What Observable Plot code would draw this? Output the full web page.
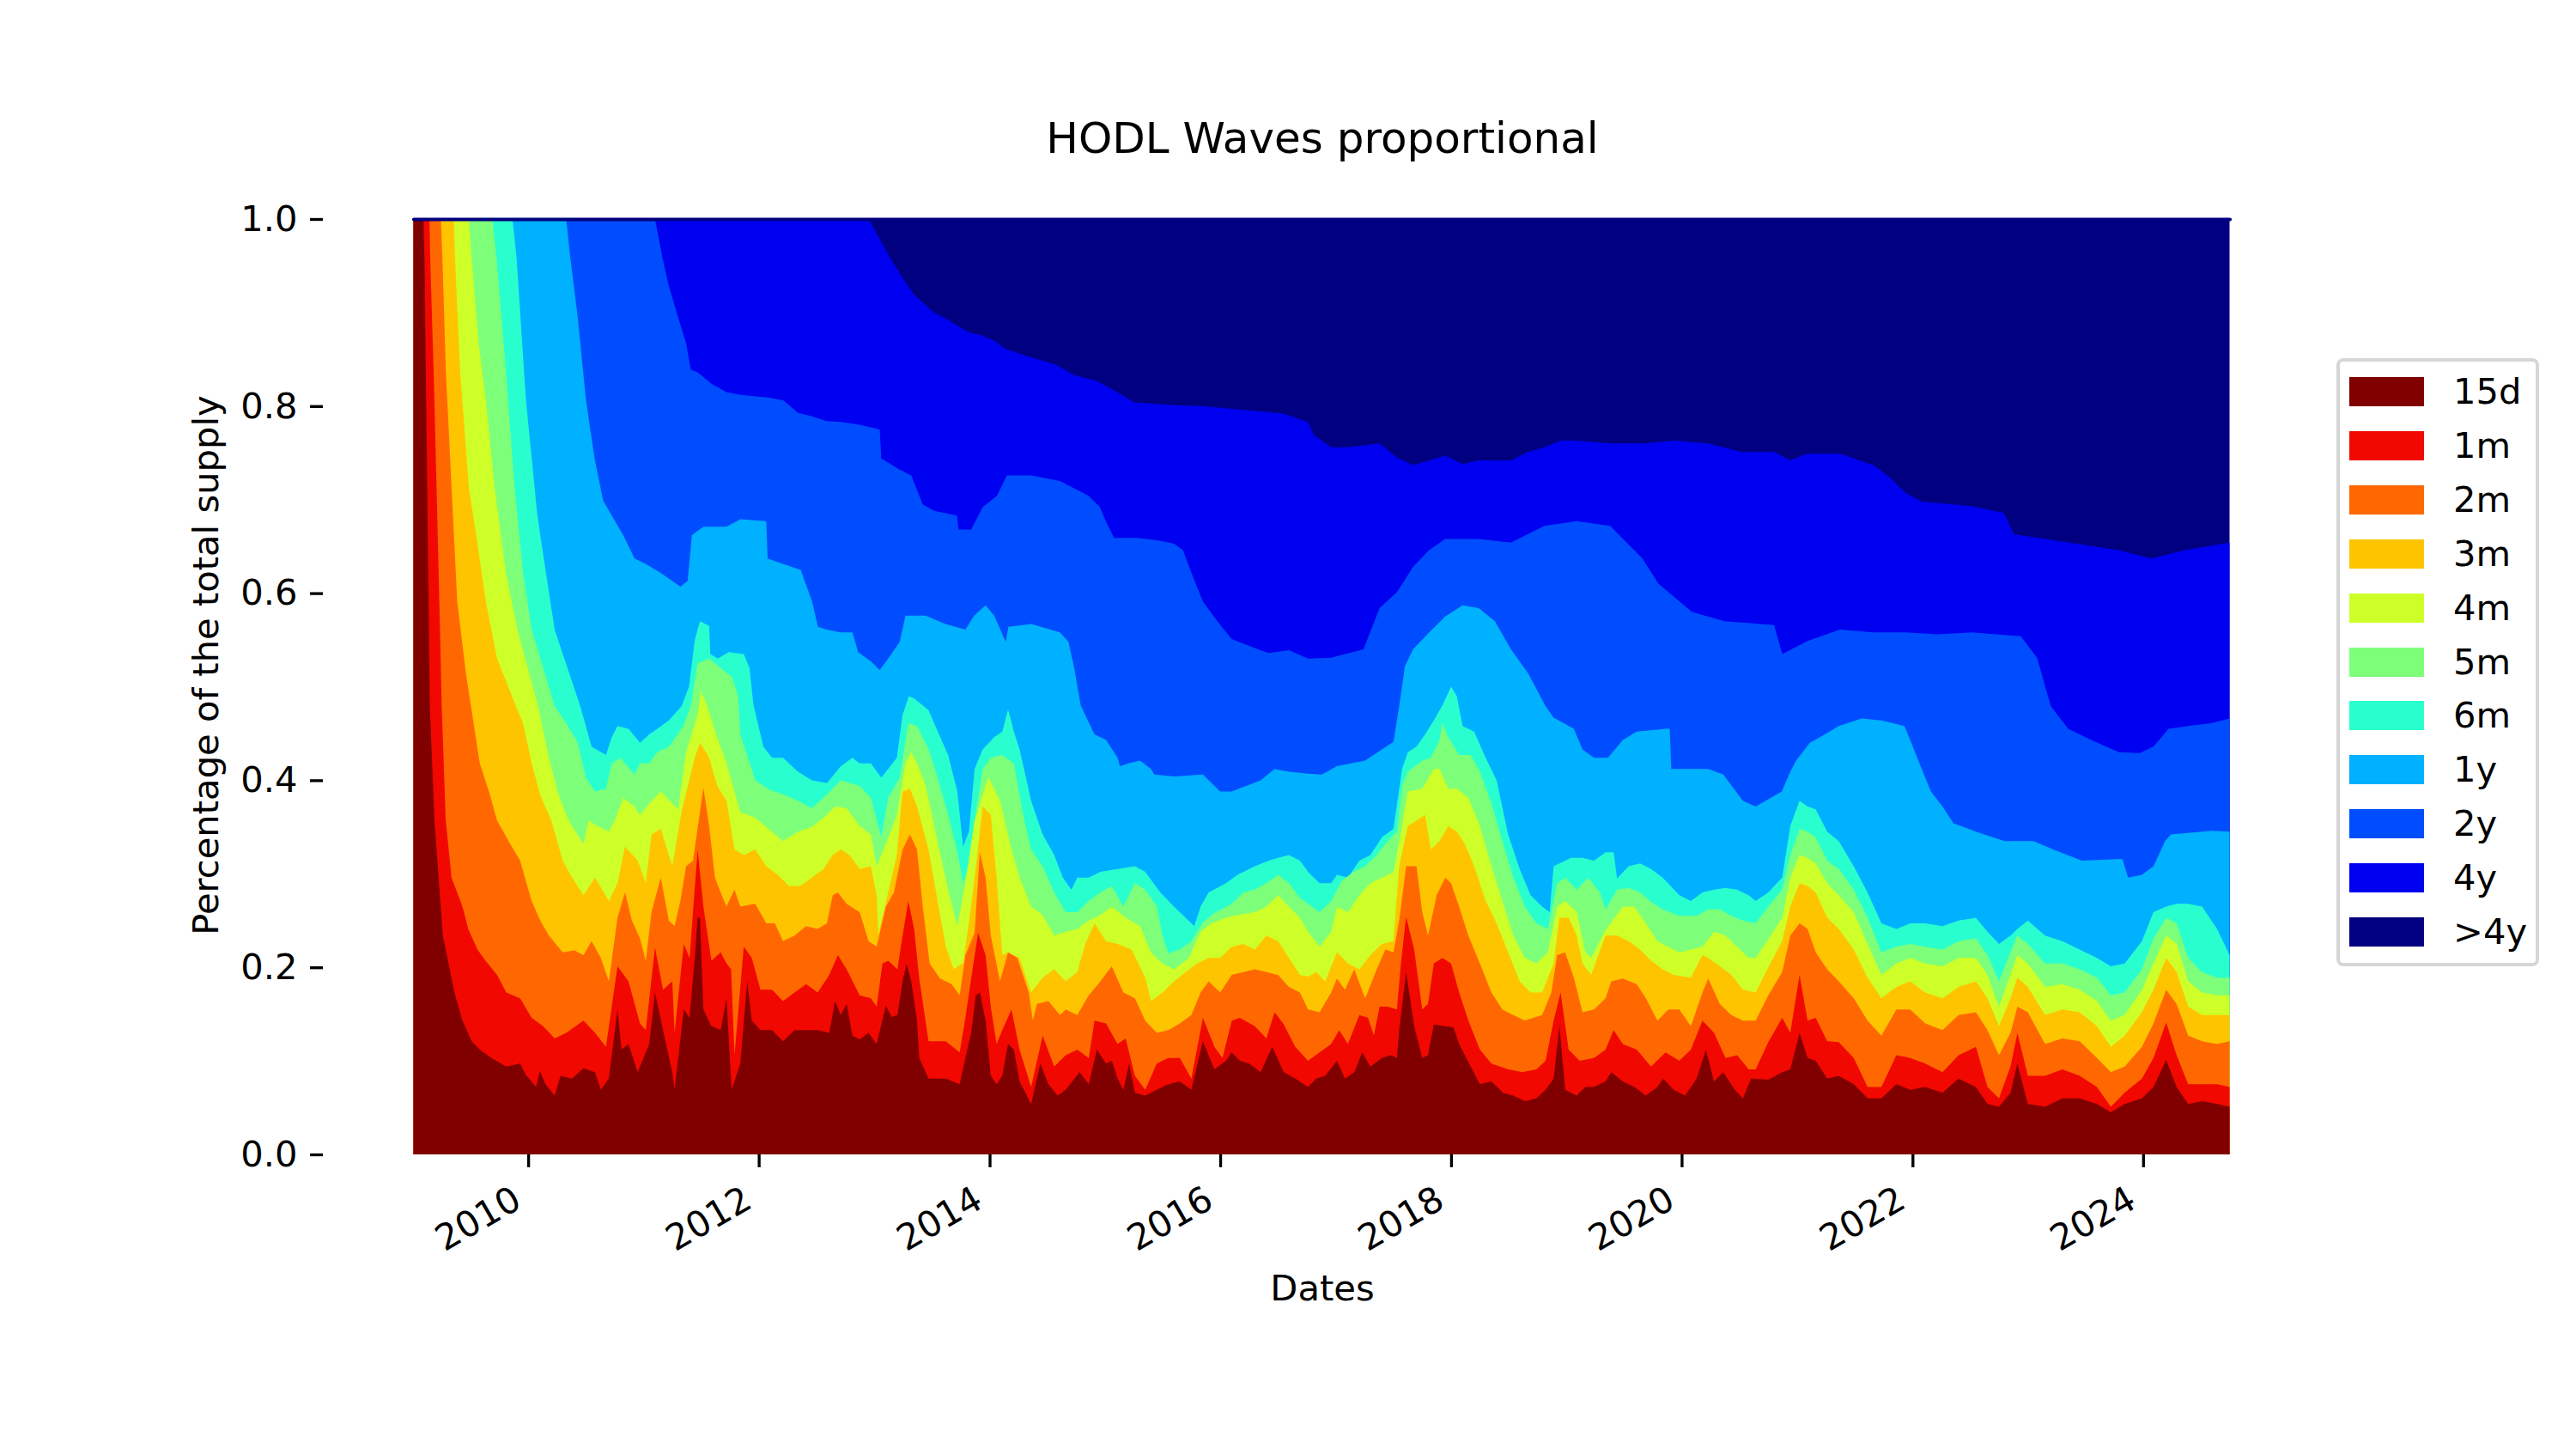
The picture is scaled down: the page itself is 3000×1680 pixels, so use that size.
<!DOCTYPE html>
<html>
<head>
<meta charset="utf-8">
<script src="https://cdn.jsdelivr.net/npm/d3@7"></script>
<script src="https://cdn.jsdelivr.net/npm/@observablehq/plot@0.6"></script>
<style>
  html, body { margin: 0; padding: 0; background: #ffffff; }
  #chart { position: relative; width: 3000px; height: 1680px; overflow: hidden; font-family: "DejaVu Sans", sans-serif; }
  #chart > svg { position: absolute; left: 0; top: 0; }
  #legend { position: absolute; left: 2721px; top: 417px; width: 236px; height: 708px; box-sizing: border-box;
            border: 4px solid #d6d6d6; border-radius: 8px; background: #ffffff; }
  #legend .sw { position: absolute; left: 11px; width: 87px; height: 34px; }
  #legend .lb { position: absolute; left: 132px; height: 48px; line-height: 48px; font-size: 41.67px; color: #000; white-space: nowrap; }
</style>
</head>
<body>
<div id="chart"></div>
<script>
// ---------------- data ----------------
const ageBands = ["15d", "1m", "2m", "3m", "4m", "5m", "6m", "1y", "2y", "4y", ">4y"];
const xTickYears = [2010, 2012, 2014, 2016, 2018, 2020, 2022, 2024];
const yTickValues = [0, 0.2, 0.4, 0.6, 0.8, 1.0];

// cumulative share of the supply younger than each age, [decimal year, share]
const shareAll = [[2009.005, 1], [2024.748, 1]];

const shareUnder15d = [[2009.005,1],[2009.092,1],[2009.10,0.96],[2009.147,0.479],[2009.187,0.357],[2009.26,0.234],[2009.36,0.173],[2009.43,0.143],[2009.51,0.121],[2009.58,0.112],[2009.68,0.103],[2009.81,0.094],[2009.93,0.097],[2009.98,0.085],[2010.07,0.072],[2010.10,0.089],[2010.15,0.075],[2010.23,0.063],[2010.28,0.084],[2010.38,0.081],[2010.48,0.092],[2010.58,0.088],[2010.63,0.069],[2010.70,0.081],[2010.775,0.155],[2010.81,0.112],[2010.87,0.118],[2010.95,0.088],[2011.05,0.118],[2011.10,0.173],[2011.17,0.133],[2011.25,0.088],[2011.27,0.069],[2011.35,0.155],[2011.40,0.146],[2011.445,0.21],[2011.47,0.253],[2011.49,0.253],[2011.52,0.155],[2011.59,0.137],[2011.67,0.133],[2011.72,0.167],[2011.765,0.069],[2011.84,0.097],[2011.90,0.185],[2011.94,0.143],[2012.015,0.133],[2012.115,0.133],[2012.21,0.121],[2012.31,0.133],[2012.41,0.133],[2012.51,0.133],[2012.61,0.13],[2012.66,0.164],[2012.71,0.149],[2012.76,0.161],[2012.81,0.127],[2012.873,0.123],[2012.95,0.13],[2013.02,0.118],[2013.10,0.159],[2013.15,0.147],[2013.20,0.149],[2013.245,0.185],[2013.28,0.204],[2013.32,0.185],[2013.37,0.143],[2013.39,0.103],[2013.47,0.081],[2013.62,0.081],[2013.74,0.075],[2013.79,0.103],[2013.84,0.13],[2013.88,0.17],[2013.915,0.173],[2013.965,0.143],[2014.01,0.084],[2014.06,0.075],[2014.11,0.084],[2014.16,0.118],[2014.21,0.112],[2014.26,0.078],[2014.36,0.054],[2014.44,0.097],[2014.51,0.075],[2014.59,0.063],[2014.66,0.069],[2014.78,0.088],[2014.86,0.075],[2014.93,0.112],[2015.01,0.097],[2015.06,0.1],[2015.11,0.081],[2015.16,0.069],[2015.21,0.097],[2015.26,0.066],[2015.35,0.063],[2015.45,0.069],[2015.55,0.075],[2015.65,0.078],[2015.75,0.069],[2015.85,0.121],[2015.95,0.091],[2016.05,0.1],[2016.10,0.109],[2016.17,0.1],[2016.25,0.097],[2016.35,0.088],[2016.45,0.115],[2016.55,0.088],[2016.65,0.081],[2016.76,0.072],[2016.83,0.081],[2016.91,0.084],[2017.01,0.1],[2017.08,0.081],[2017.16,0.088],[2017.23,0.109],[2017.30,0.094],[2017.40,0.103],[2017.48,0.106],[2017.53,0.103],[2017.55,0.133],[2017.61,0.195],[2017.68,0.137],[2017.75,0.103],[2017.80,0.106],[2017.85,0.139],[2017.95,0.137],[2018.02,0.136],[2018.07,0.118],[2018.17,0.094],[2018.25,0.075],[2018.35,0.078],[2018.45,0.066],[2018.54,0.063],[2018.64,0.057],[2018.74,0.06],[2018.82,0.069],[2018.89,0.081],[2018.94,0.137],[2018.99,0.069],[2019.09,0.063],[2019.165,0.072],[2019.24,0.072],[2019.34,0.078],[2019.39,0.088],[2019.49,0.078],[2019.59,0.072],[2019.69,0.063],[2019.79,0.072],[2019.84,0.081],[2019.93,0.069],[2020.03,0.063],[2020.13,0.081],[2020.21,0.112],[2020.28,0.078],[2020.36,0.088],[2020.46,0.069],[2020.53,0.06],[2020.60,0.081],[2020.75,0.08],[2020.87,0.088],[2020.94,0.091],[2021.02,0.130],[2021.09,0.103],[2021.16,0.100],[2021.26,0.081],[2021.36,0.084],[2021.49,0.075],[2021.61,0.060],[2021.73,0.060],[2021.86,0.075],[2021.98,0.069],[2022.11,0.072],[2022.26,0.066],[2022.40,0.081],[2022.55,0.072],[2022.65,0.054],[2022.75,0.051],[2022.85,0.066],[2022.91,0.097],[2023.00,0.054],[2023.15,0.051],[2023.30,0.060],[2023.45,0.060],[2023.60,0.054],[2023.72,0.045],[2023.84,0.054],[2023.99,0.060],[2024.09,0.072],[2024.20,0.101],[2024.29,0.072],[2024.39,0.054],[2024.51,0.057],[2024.64,0.054],[2024.748,0.051]];

const shareUnder1m = [[2009.005,1],[2009.144,1],[2009.15,0.959],[2009.18,0.837],[2009.205,0.714],[2009.235,0.561],[2009.25,0.479],[2009.285,0.357],[2009.335,0.296],[2009.43,0.265],[2009.48,0.241],[2009.56,0.219],[2009.63,0.207],[2009.73,0.192],[2009.81,0.173],[2009.93,0.167],[2010.03,0.146],[2010.13,0.137],[2010.23,0.124],[2010.33,0.13],[2010.48,0.143],[2010.58,0.13],[2010.675,0.115],[2010.775,0.201],[2010.87,0.185],[2010.97,0.14],[2011.02,0.133],[2011.10,0.221],[2011.17,0.176],[2011.25,0.185],[2011.27,0.13],[2011.35,0.225],[2011.40,0.21],[2011.47,0.326],[2011.52,0.265],[2011.59,0.207],[2011.67,0.216],[2011.72,0.204],[2011.76,0.198],[2011.79,0.106],[2011.87,0.222],[2011.94,0.21],[2012.015,0.176],[2012.115,0.176],[2012.21,0.164],[2012.31,0.173],[2012.41,0.182],[2012.51,0.173],[2012.61,0.192],[2012.685,0.213],[2012.76,0.198],[2012.873,0.17],[2012.97,0.167],[2013.02,0.158],[2013.07,0.204],[2013.12,0.207],[2013.20,0.198],[2013.245,0.234],[2013.295,0.271],[2013.345,0.241],[2013.39,0.188],[2013.47,0.121],[2013.62,0.121],[2013.74,0.109],[2013.79,0.146],[2013.84,0.188],[2013.90,0.237],[2013.965,0.213],[2014.01,0.158],[2014.06,0.118],[2014.11,0.133],[2014.19,0.155],[2014.26,0.112],[2014.36,0.072],[2014.46,0.127],[2014.56,0.094],[2014.66,0.106],[2014.76,0.112],[2014.86,0.103],[2014.91,0.143],[2015.01,0.14],[2015.11,0.118],[2015.18,0.124],[2015.26,0.084],[2015.35,0.069],[2015.45,0.097],[2015.55,0.103],[2015.65,0.103],[2015.75,0.081],[2015.85,0.146],[2015.95,0.115],[2016.02,0.103],[2016.10,0.143],[2016.17,0.146],[2016.30,0.137],[2016.40,0.124],[2016.47,0.152],[2016.545,0.14],[2016.65,0.115],[2016.76,0.1],[2016.86,0.109],[2016.96,0.118],[2017.03,0.133],[2017.105,0.118],[2017.205,0.149],[2017.28,0.146],[2017.33,0.127],[2017.38,0.158],[2017.45,0.158],[2017.53,0.155],[2017.565,0.204],[2017.61,0.254],[2017.68,0.219],[2017.75,0.155],[2017.80,0.161],[2017.85,0.204],[2017.925,0.21],[2018.00,0.204],[2018.07,0.173],[2018.15,0.143],[2018.25,0.112],[2018.35,0.097],[2018.495,0.091],[2018.62,0.088],[2018.74,0.091],[2018.82,0.1],[2018.89,0.143],[2018.95,0.173],[2019.02,0.112],[2019.115,0.1],[2019.24,0.103],[2019.34,0.112],[2019.41,0.133],[2019.49,0.118],[2019.61,0.112],[2019.735,0.094],[2019.86,0.109],[2019.98,0.1],[2020.08,0.112],[2020.18,0.143],[2020.28,0.13],[2020.38,0.103],[2020.48,0.106],[2020.58,0.091],[2020.64,0.091],[2020.75,0.12],[2020.87,0.146],[2020.94,0.130],[2021.02,0.192],[2021.09,0.143],[2021.16,0.146],[2021.26,0.121],[2021.36,0.120],[2021.49,0.103],[2021.61,0.072],[2021.73,0.072],[2021.86,0.106],[2021.98,0.103],[2022.11,0.097],[2022.26,0.088],[2022.40,0.106],[2022.55,0.115],[2022.65,0.072],[2022.75,0.060],[2022.85,0.094],[2022.91,0.130],[2023.00,0.084],[2023.15,0.084],[2023.30,0.091],[2023.45,0.084],[2023.60,0.072],[2023.72,0.051],[2023.84,0.066],[2023.99,0.081],[2024.09,0.103],[2024.20,0.141],[2024.29,0.106],[2024.39,0.075],[2024.51,0.075],[2024.64,0.075],[2024.748,0.072]];

const shareUnder2m = [[2009.005,1],[2009.243,1],[2009.256,0.959],[2009.286,0.837],[2009.335,0.714],[2009.385,0.591],[2009.46,0.514],[2009.504,0.479],[2009.58,0.418],[2009.66,0.388],[2009.73,0.357],[2009.83,0.335],[2009.93,0.314],[2010.03,0.271],[2010.105,0.25],[2010.18,0.234],[2010.30,0.216],[2010.40,0.218],[2010.48,0.213],[2010.55,0.228],[2010.63,0.21],[2010.70,0.185],[2010.775,0.253],[2010.84,0.28],[2010.90,0.25],[2010.97,0.231],[2011.02,0.207],[2011.07,0.259],[2011.15,0.296],[2011.22,0.25],[2011.27,0.244],[2011.32,0.271],[2011.37,0.308],[2011.43,0.314],[2011.52,0.392],[2011.57,0.351],[2011.62,0.296],[2011.67,0.28],[2011.72,0.265],[2011.79,0.283],[2011.84,0.265],[2011.97,0.268],[2012.065,0.247],[2012.14,0.247],[2012.21,0.228],[2012.31,0.234],[2012.41,0.244],[2012.51,0.241],[2012.59,0.247],[2012.64,0.277],[2012.685,0.28],[2012.76,0.268],[2012.873,0.259],[2012.95,0.228],[2013.02,0.222],[2013.10,0.265],[2013.17,0.28],[2013.245,0.326],[2013.31,0.342],[2013.37,0.326],[2013.42,0.265],[2013.48,0.204],[2013.57,0.188],[2013.67,0.182],[2013.74,0.17],[2013.79,0.213],[2013.87,0.237],[2013.915,0.323],[2013.965,0.296],[2014.01,0.234],[2014.09,0.185],[2014.16,0.216],[2014.24,0.21],[2014.34,0.173],[2014.375,0.143],[2014.41,0.161],[2014.51,0.164],[2014.61,0.149],[2014.66,0.155],[2014.76,0.149],[2014.86,0.17],[2014.96,0.185],[2015.06,0.201],[2015.16,0.173],[2015.26,0.167],[2015.35,0.143],[2015.45,0.13],[2015.55,0.133],[2015.65,0.14],[2015.75,0.149],[2015.83,0.173],[2015.90,0.185],[2016.00,0.173],[2016.10,0.192],[2016.20,0.195],[2016.30,0.198],[2016.40,0.195],[2016.50,0.192],[2016.595,0.179],[2016.69,0.173],[2016.76,0.155],[2016.86,0.152],[2016.96,0.173],[2017.01,0.188],[2017.08,0.176],[2017.16,0.198],[2017.255,0.167],[2017.355,0.198],[2017.43,0.219],[2017.50,0.216],[2017.55,0.25],[2017.61,0.308],[2017.70,0.308],[2017.75,0.259],[2017.80,0.234],[2017.875,0.277],[2017.95,0.296],[2018.00,0.29],[2018.07,0.265],[2018.15,0.234],[2018.25,0.204],[2018.35,0.173],[2018.445,0.155],[2018.54,0.149],[2018.64,0.143],[2018.79,0.149],[2018.87,0.173],[2018.92,0.213],[2018.99,0.216],[2019.065,0.189],[2019.14,0.152],[2019.24,0.155],[2019.34,0.167],[2019.39,0.185],[2019.49,0.188],[2019.61,0.182],[2019.69,0.167],[2019.79,0.143],[2019.885,0.155],[2019.98,0.155],[2020.08,0.137],[2020.18,0.173],[2020.23,0.188],[2020.33,0.161],[2020.43,0.149],[2020.53,0.143],[2020.64,0.143],[2020.75,0.17],[2020.87,0.195],[2020.94,0.234],[2021.02,0.247],[2021.09,0.241],[2021.16,0.216],[2021.26,0.198],[2021.36,0.185],[2021.49,0.167],[2021.61,0.143],[2021.73,0.127],[2021.86,0.155],[2021.98,0.155],[2022.11,0.140],[2022.26,0.133],[2022.40,0.149],[2022.55,0.152],[2022.65,0.133],[2022.75,0.106],[2022.85,0.130],[2022.91,0.158],[2023.00,0.152],[2023.15,0.118],[2023.30,0.124],[2023.45,0.121],[2023.60,0.103],[2023.72,0.088],[2023.84,0.094],[2023.99,0.115],[2024.09,0.140],[2024.20,0.176],[2024.29,0.161],[2024.39,0.127],[2024.51,0.121],[2024.64,0.118],[2024.748,0.121]];

const shareUnder3m = [[2009.005,1],[2009.355,1],[2009.365,0.959],[2009.41,0.837],[2009.484,0.714],[2009.56,0.653],[2009.633,0.591],[2009.73,0.53],[2009.894,0.479],[2009.955,0.461],[2010.03,0.418],[2010.105,0.384],[2010.20,0.357],[2010.30,0.314],[2010.38,0.296],[2010.48,0.277],[2010.58,0.296],[2010.70,0.271],[2010.775,0.29],[2010.84,0.329],[2010.95,0.314],[2011.02,0.29],[2011.07,0.342],[2011.15,0.348],[2011.25,0.308],[2011.33,0.366],[2011.445,0.424],[2011.49,0.44],[2011.57,0.424],[2011.64,0.394],[2011.72,0.378],[2011.79,0.326],[2011.87,0.32],[2011.97,0.326],[2012.065,0.308],[2012.165,0.299],[2012.26,0.287],[2012.36,0.287],[2012.46,0.296],[2012.56,0.305],[2012.64,0.32],[2012.71,0.326],[2012.785,0.32],[2012.873,0.305],[2012.97,0.308],[2013.02,0.277],[2013.035,0.235],[2013.12,0.28],[2013.195,0.32],[2013.245,0.388],[2013.31,0.391],[2013.37,0.372],[2013.47,0.326],[2013.54,0.277],[2013.62,0.222],[2013.69,0.198],[2013.77,0.205],[2013.82,0.247],[2013.87,0.296],[2013.94,0.372],[2014.01,0.363],[2014.06,0.296],[2014.11,0.213],[2014.16,0.216],[2014.26,0.21],[2014.36,0.173],[2014.46,0.189],[2014.56,0.198],[2014.66,0.185],[2014.76,0.195],[2014.83,0.225],[2014.91,0.247],[2015.01,0.228],[2015.11,0.225],[2015.23,0.219],[2015.35,0.189],[2015.40,0.164],[2015.50,0.173],[2015.60,0.185],[2015.70,0.195],[2015.80,0.204],[2015.90,0.21],[2016.00,0.21],[2016.10,0.222],[2016.20,0.225],[2016.30,0.219],[2016.40,0.234],[2016.50,0.228],[2016.595,0.21],[2016.69,0.192],[2016.76,0.19],[2016.83,0.195],[2016.91,0.185],[2017.01,0.216],[2017.105,0.204],[2017.205,0.198],[2017.30,0.213],[2017.40,0.225],[2017.50,0.228],[2017.55,0.308],[2017.625,0.351],[2017.70,0.357],[2017.775,0.363],[2017.825,0.326],[2017.90,0.335],[2017.975,0.351],[2018.05,0.345],[2018.12,0.332],[2018.20,0.308],[2018.30,0.271],[2018.395,0.247],[2018.495,0.216],[2018.595,0.185],[2018.69,0.173],[2018.79,0.173],[2018.89,0.204],[2018.94,0.253],[2019.02,0.253],[2019.09,0.234],[2019.14,0.204],[2019.215,0.192],[2019.34,0.234],[2019.44,0.234],[2019.54,0.228],[2019.64,0.219],[2019.735,0.207],[2019.835,0.198],[2019.93,0.192],[2020.08,0.189],[2020.18,0.213],[2020.23,0.21],[2020.33,0.201],[2020.43,0.192],[2020.53,0.176],[2020.64,0.173],[2020.75,0.2],[2020.87,0.228],[2020.94,0.265],[2021.02,0.290],[2021.09,0.287],[2021.16,0.280],[2021.26,0.253],[2021.36,0.241],[2021.49,0.219],[2021.61,0.189],[2021.73,0.167],[2021.86,0.179],[2021.98,0.185],[2022.11,0.173],[2022.26,0.167],[2022.40,0.179],[2022.55,0.185],[2022.65,0.167],[2022.75,0.137],[2022.85,0.167],[2022.91,0.189],[2023.00,0.179],[2023.15,0.149],[2023.30,0.155],[2023.45,0.152],[2023.60,0.137],[2023.72,0.115],[2023.84,0.127],[2023.99,0.152],[2024.09,0.176],[2024.20,0.210],[2024.29,0.195],[2024.39,0.158],[2024.51,0.149],[2024.64,0.149],[2024.748,0.149]];

const shareUnder4m = [[2009.005,1],[2009.486,1],[2009.509,0.959],[2009.571,0.867],[2009.633,0.806],[2009.708,0.714],[2009.807,0.622],[2009.906,0.561],[2010.085,0.479],[2010.18,0.424],[2010.255,0.388],[2010.33,0.363],[2010.38,0.351],[2010.48,0.332],[2010.525,0.357],[2010.60,0.351],[2010.70,0.345],[2010.75,0.357],[2010.825,0.381],[2010.92,0.372],[2010.97,0.363],[2011.05,0.375],[2011.15,0.388],[2011.30,0.369],[2011.37,0.43],[2011.47,0.47],[2011.50,0.495],[2011.55,0.48],[2011.63,0.449],[2011.72,0.418],[2011.79,0.388],[2011.84,0.366],[2011.97,0.36],[2012.21,0.335],[2012.34,0.345],[2012.46,0.35],[2012.56,0.36],[2012.66,0.372],[2012.76,0.37],[2012.873,0.351],[2012.97,0.342],[2013.02,0.308],[2013.10,0.332],[2013.195,0.363],[2013.27,0.418],[2013.32,0.43],[2013.37,0.418],[2013.445,0.394],[2013.54,0.339],[2013.64,0.283],[2013.72,0.244],[2013.79,0.29],[2013.87,0.357],[2013.965,0.394],[2013.99,0.403],[2014.09,0.378],[2014.19,0.326],[2014.26,0.296],[2014.36,0.265],[2014.46,0.256],[2014.56,0.234],[2014.66,0.238],[2014.76,0.241],[2014.86,0.25],[2014.96,0.256],[2015.06,0.265],[2015.18,0.253],[2015.305,0.244],[2015.40,0.216],[2015.50,0.204],[2015.60,0.198],[2015.73,0.21],[2015.83,0.238],[2015.925,0.247],[2016.05,0.253],[2016.15,0.256],[2016.30,0.259],[2016.40,0.265],[2016.50,0.277],[2016.595,0.265],[2016.69,0.253],[2016.76,0.238],[2016.86,0.222],[2016.96,0.238],[2017.01,0.265],[2017.105,0.259],[2017.205,0.277],[2017.30,0.29],[2017.40,0.296],[2017.50,0.302],[2017.575,0.351],[2017.625,0.388],[2017.75,0.391],[2017.85,0.412],[2017.90,0.412],[2017.975,0.391],[2018.05,0.391],[2018.15,0.381],[2018.25,0.351],[2018.35,0.308],[2018.445,0.271],[2018.54,0.234],[2018.64,0.21],[2018.74,0.204],[2018.84,0.216],[2018.92,0.265],[2018.99,0.271],[2019.09,0.259],[2019.165,0.216],[2019.215,0.21],[2019.34,0.24],[2019.49,0.265],[2019.59,0.265],[2019.69,0.247],[2019.79,0.228],[2019.885,0.222],[2019.98,0.216],[2020.18,0.222],[2020.28,0.238],[2020.38,0.234],[2020.48,0.222],[2020.58,0.21],[2020.64,0.21],[2020.75,0.23],[2020.87,0.253],[2020.94,0.296],[2021.02,0.320],[2021.09,0.317],[2021.16,0.311],[2021.26,0.290],[2021.36,0.277],[2021.49,0.259],[2021.61,0.225],[2021.73,0.192],[2021.86,0.204],[2021.98,0.210],[2022.11,0.204],[2022.26,0.201],[2022.40,0.210],[2022.55,0.210],[2022.65,0.192],[2022.75,0.158],[2022.85,0.192],[2022.91,0.213],[2023.00,0.204],[2023.15,0.179],[2023.30,0.182],[2023.45,0.176],[2023.60,0.164],[2023.72,0.143],[2023.84,0.149],[2023.99,0.176],[2024.09,0.204],[2024.20,0.234],[2024.29,0.225],[2024.39,0.185],[2024.51,0.173],[2024.64,0.170],[2024.748,0.170]];

const shareUnder5m = [[2009.005,1],[2009.69,1],[2009.725,0.959],[2009.807,0.837],[2009.881,0.714],[2009.956,0.622],[2010.03,0.561],[2010.23,0.479],[2010.33,0.461],[2010.43,0.44],[2010.50,0.403],[2010.58,0.388],[2010.675,0.391],[2010.725,0.418],[2010.80,0.424],[2010.92,0.406],[2010.97,0.418],[2011.05,0.418],[2011.12,0.43],[2011.22,0.436],[2011.345,0.458],[2011.41,0.479],[2011.47,0.525],[2011.57,0.53],[2011.67,0.52],[2011.77,0.51],[2011.82,0.49],[2011.84,0.449],[2011.97,0.40],[2012.09,0.39],[2012.21,0.385],[2012.34,0.378],[2012.46,0.37],[2012.59,0.385],[2012.71,0.40],[2012.873,0.394],[2012.97,0.381],[2013.06,0.339],[2013.12,0.381],[2013.22,0.403],[2013.295,0.461],[2013.37,0.458],[2013.47,0.433],[2013.54,0.406],[2013.64,0.363],[2013.72,0.323],[2013.77,0.29],[2013.82,0.311],[2013.87,0.357],[2013.94,0.412],[2014.01,0.424],[2014.11,0.427],[2014.21,0.418],[2014.29,0.363],[2014.36,0.326],[2014.46,0.308],[2014.56,0.28],[2014.66,0.259],[2014.76,0.259],[2014.86,0.271],[2014.96,0.28],[2015.06,0.287],[2015.16,0.265],[2015.26,0.29],[2015.35,0.283],[2015.45,0.265],[2015.50,0.234],[2015.55,0.215],[2015.65,0.219],[2015.75,0.228],[2015.85,0.248],[2015.95,0.258],[2016.10,0.268],[2016.20,0.28],[2016.30,0.283],[2016.40,0.29],[2016.50,0.299],[2016.595,0.29],[2016.69,0.274],[2016.76,0.268],[2016.86,0.259],[2016.96,0.271],[2017.055,0.293],[2017.155,0.302],[2017.255,0.308],[2017.355,0.32],[2017.45,0.335],[2017.53,0.345],[2017.575,0.394],[2017.625,0.409],[2017.75,0.421],[2017.825,0.424],[2017.90,0.443],[2017.925,0.461],[2017.975,0.446],[2018.07,0.427],[2018.17,0.427],[2018.25,0.409],[2018.35,0.375],[2018.445,0.335],[2018.54,0.296],[2018.64,0.265],[2018.74,0.247],[2018.84,0.241],[2018.92,0.29],[2018.99,0.296],[2019.09,0.283],[2019.19,0.296],[2019.29,0.28],[2019.34,0.262],[2019.44,0.283],[2019.54,0.285],[2019.64,0.28],[2019.735,0.27],[2019.835,0.262],[2019.98,0.255],[2020.13,0.255],[2020.23,0.262],[2020.33,0.262],[2020.43,0.255],[2020.53,0.25],[2020.64,0.247],[2020.75,0.265],[2020.87,0.283],[2020.94,0.320],[2021.02,0.348],[2021.09,0.345],[2021.16,0.339],[2021.26,0.314],[2021.36,0.305],[2021.49,0.283],[2021.61,0.253],[2021.73,0.216],[2021.86,0.222],[2021.98,0.225],[2022.11,0.222],[2022.26,0.219],[2022.40,0.228],[2022.55,0.231],[2022.65,0.213],[2022.75,0.185],[2022.85,0.216],[2022.91,0.234],[2023.00,0.225],[2023.15,0.204],[2023.30,0.204],[2023.45,0.198],[2023.60,0.189],[2023.72,0.170],[2023.84,0.173],[2023.99,0.198],[2024.09,0.231],[2024.20,0.253],[2024.29,0.247],[2024.39,0.210],[2024.51,0.195],[2024.64,0.189],[2024.748,0.189]];

const shareUnder6m = [[2009.005,1],[2009.864,1],[2009.899,0.959],[2009.981,0.806],[2010.08,0.683],[2010.154,0.622],[2010.23,0.561],[2010.33,0.524],[2010.452,0.479],[2010.55,0.436],[2010.675,0.427],[2010.725,0.446],[2010.775,0.458],[2010.87,0.455],[2010.97,0.44],[2011.05,0.449],[2011.12,0.455],[2011.22,0.464],[2011.33,0.479],[2011.395,0.50],[2011.445,0.55],[2011.49,0.57],[2011.57,0.565],[2011.58,0.535],[2011.645,0.53],[2011.74,0.537],[2011.87,0.535],[2011.92,0.52],[2011.955,0.48],[2012.04,0.436],[2012.115,0.424],[2012.21,0.424],[2012.34,0.409],[2012.46,0.40],[2012.59,0.397],[2012.71,0.415],[2012.81,0.424],[2012.873,0.418],[2012.97,0.418],[2013.06,0.403],[2013.12,0.412],[2013.195,0.424],[2013.245,0.47],[2013.30,0.49],[2013.35,0.487],[2013.42,0.48],[2013.47,0.475],[2013.54,0.455],[2013.64,0.427],[2013.72,0.388],[2013.77,0.329],[2013.82,0.345],[2013.87,0.412],[2013.94,0.433],[2014.04,0.446],[2014.11,0.452],[2014.16,0.476],[2014.21,0.452],[2014.26,0.433],[2014.36,0.378],[2014.46,0.342],[2014.56,0.32],[2014.635,0.296],[2014.71,0.283],[2014.76,0.296],[2014.86,0.296],[2014.96,0.302],[2015.11,0.305],[2015.26,0.308],[2015.35,0.302],[2015.48,0.28],[2015.60,0.265],[2015.70,0.253],[2015.775,0.244],[2015.83,0.265],[2015.90,0.28],[2016.05,0.29],[2016.15,0.299],[2016.30,0.308],[2016.42,0.314],[2016.50,0.317],[2016.595,0.32],[2016.69,0.314],[2016.76,0.302],[2016.86,0.29],[2016.96,0.29],[2017.01,0.299],[2017.105,0.296],[2017.205,0.314],[2017.30,0.32],[2017.40,0.339],[2017.50,0.348],[2017.575,0.412],[2017.625,0.43],[2017.70,0.436],[2017.775,0.449],[2017.85,0.464],[2017.925,0.48],[2018.00,0.50],[2018.05,0.49],[2018.10,0.458],[2018.20,0.452],[2018.30,0.424],[2018.395,0.40],[2018.495,0.342],[2018.595,0.305],[2018.69,0.277],[2018.79,0.265],[2018.855,0.259],[2018.89,0.308],[2018.94,0.311],[2019.04,0.317],[2019.14,0.317],[2019.24,0.314],[2019.34,0.323],[2019.41,0.323],[2019.44,0.295],[2019.54,0.308],[2019.64,0.311],[2019.735,0.305],[2019.835,0.296],[2019.98,0.277],[2020.08,0.271],[2020.18,0.28],[2020.28,0.283],[2020.38,0.285],[2020.48,0.283],[2020.58,0.277],[2020.64,0.271],[2020.75,0.28],[2020.87,0.296],[2020.94,0.351],[2021.02,0.378],[2021.09,0.372],[2021.16,0.369],[2021.26,0.345],[2021.36,0.335],[2021.49,0.308],[2021.61,0.280],[2021.73,0.247],[2021.86,0.241],[2021.98,0.247],[2022.11,0.247],[2022.26,0.244],[2022.40,0.250],[2022.55,0.253],[2022.65,0.238],[2022.75,0.225],[2022.85,0.234],[2022.91,0.241],[2023.00,0.250],[2023.15,0.234],[2023.30,0.228],[2023.45,0.219],[2023.60,0.210],[2023.72,0.201],[2023.84,0.204],[2023.99,0.228],[2024.09,0.259],[2024.20,0.265],[2024.29,0.268],[2024.39,0.268],[2024.51,0.265],[2024.64,0.241],[2024.748,0.213]];

const shareUnder1y = [[2009.005,1],[2010.33,1],[2010.365,0.959],[2010.427,0.898],[2010.502,0.806],[2010.576,0.744],[2010.65,0.699],[2010.725,0.683],[2010.824,0.662],[2010.923,0.637],[2011.023,0.631],[2011.147,0.622],[2011.32,0.607],[2011.383,0.613],[2011.42,0.662],[2011.52,0.671],[2011.718,0.671],[2011.842,0.679],[2012.065,0.677],[2012.077,0.637],[2012.214,0.631],[2012.363,0.625],[2012.462,0.591],[2012.512,0.564],[2012.586,0.561],[2012.71,0.558],[2012.81,0.558],[2012.86,0.537],[2012.97,0.527],[2013.047,0.518],[2013.12,0.53],[2013.22,0.548],[2013.27,0.576],[2013.444,0.576],[2013.617,0.567],[2013.79,0.561],[2013.866,0.576],[2013.965,0.587],[2014.04,0.576],[2014.114,0.555],[2014.14,0.548],[2014.163,0.564],[2014.362,0.567],[2014.61,0.558],[2014.684,0.548],[2014.734,0.52],[2014.79,0.48],[2014.91,0.449],[2015.01,0.443],[2015.11,0.424],[2015.13,0.415],[2015.206,0.418],[2015.305,0.421],[2015.40,0.412],[2015.43,0.406],[2015.60,0.404],[2015.85,0.406],[2016.00,0.388],[2016.10,0.388],[2016.35,0.40],[2016.47,0.412],[2016.595,0.409],[2016.76,0.407],[2016.88,0.406],[2017.01,0.415],[2017.255,0.421],[2017.40,0.433],[2017.50,0.441],[2017.55,0.479],[2017.60,0.522],[2017.67,0.54],[2017.81,0.558],[2017.95,0.575],[2018.10,0.587],[2018.24,0.584],[2018.38,0.57],[2018.52,0.54],[2018.67,0.514],[2018.82,0.479],[2018.89,0.467],[2019.065,0.455],[2019.14,0.433],[2019.24,0.424],[2019.36,0.424],[2019.49,0.443],[2019.61,0.452],[2019.86,0.455],[2019.897,0.455],[2019.91,0.412],[2020.11,0.412],[2020.23,0.412],[2020.36,0.406],[2020.53,0.378],[2020.64,0.372],[2020.866,0.388],[2020.94,0.409],[2020.99,0.421],[2021.11,0.44],[2021.24,0.449],[2021.36,0.458],[2021.56,0.466],[2021.73,0.464],[2021.93,0.458],[2021.98,0.443],[2022.06,0.418],[2022.16,0.388],[2022.26,0.372],[2022.355,0.354],[2022.55,0.345],[2022.80,0.335],[2023.05,0.335],[2023.22,0.326],[2023.47,0.314],[2023.82,0.316],[2023.87,0.296],[2023.99,0.299],[2024.09,0.308],[2024.19,0.335],[2024.24,0.342],[2024.59,0.346],[2024.748,0.345]];

const shareUnder2y = [[2009.005,1],[2011.10,1],[2011.164,0.959],[2011.221,0.928],[2011.296,0.897],[2011.37,0.867],[2011.41,0.839],[2011.47,0.836],[2011.59,0.824],[2011.718,0.815],[2011.842,0.812],[2012.09,0.809],[2012.214,0.806],[2012.338,0.793],[2012.462,0.789],[2012.586,0.784],[2012.71,0.783],[2012.873,0.78],[2013.047,0.775],[2013.06,0.744],[2013.22,0.732],[2013.32,0.726],[2013.42,0.695],[2013.518,0.688],[2013.717,0.683],[2013.73,0.668],[2013.84,0.668],[2013.94,0.692],[2014.064,0.704],[2014.15,0.726],[2014.362,0.726],[2014.61,0.72],[2014.858,0.704],[2014.957,0.692],[2015.007,0.677],[2015.08,0.659],[2015.28,0.659],[2015.478,0.656],[2015.60,0.653],[2015.677,0.646],[2015.75,0.622],[2015.85,0.591],[2015.975,0.57],[2016.099,0.551],[2016.347,0.539],[2016.42,0.536],[2016.595,0.539],[2016.76,0.53],[2016.96,0.531],[2017.24,0.54],[2017.38,0.584],[2017.53,0.601],[2017.67,0.628],[2017.81,0.646],[2017.95,0.658],[2018.24,0.658],[2018.52,0.654],[2018.81,0.672],[2019.09,0.677],[2019.38,0.672],[2019.66,0.637],[2019.80,0.61],[2020.09,0.58],[2020.37,0.57],[2020.80,0.566],[2020.87,0.535],[2021.09,0.549],[2021.37,0.561],[2021.66,0.558],[2021.94,0.558],[2022.22,0.556],[2022.51,0.558],[2022.94,0.554],[2023.08,0.531],[2023.20,0.479],[2023.35,0.455],[2023.55,0.443],[2023.79,0.43],[2023.97,0.429],[2024.09,0.436],[2024.22,0.455],[2024.39,0.458],[2024.59,0.461],[2024.748,0.466]];

const shareUnder4y = [[2009.005,1],[2012.95,1],[2013.134,0.959],[2013.245,0.937],[2013.345,0.919],[2013.518,0.90],[2013.617,0.894],[2013.816,0.879],[2013.915,0.876],[2014.039,0.87],[2014.138,0.861],[2014.362,0.852],[2014.56,0.845],[2014.734,0.833],[2014.933,0.827],[2015.106,0.815],[2015.255,0.804],[2015.60,0.801],[2015.85,0.80],[2016.099,0.797],[2016.545,0.792],[2016.759,0.783],[2016.81,0.769],[2016.96,0.756],[2017.10,0.756],[2017.38,0.76],[2017.53,0.745],[2017.67,0.737],[2017.81,0.742],[2017.95,0.747],[2018.10,0.738],[2018.24,0.742],[2018.52,0.742],[2018.67,0.751],[2018.81,0.756],[2018.95,0.763],[2019.09,0.763],[2019.38,0.76],[2019.66,0.76],[2019.94,0.763],[2020.23,0.76],[2020.52,0.751],[2020.80,0.751],[2020.94,0.742],[2021.09,0.749],[2021.37,0.749],[2021.66,0.737],[2021.80,0.724],[2021.94,0.707],[2022.08,0.698],[2022.51,0.693],[2022.79,0.686],[2022.88,0.663],[2023.36,0.654],[2023.79,0.646],[2024.07,0.637],[2024.36,0.646],[2024.748,0.654]];

// ---------------- styles ----------------
const bandColors = ["#800000", "#f10800", "#ff6800", "#ffc400", "#ceff29", "#7dff7a", "#29ffce", "#00b1ff", "#004dff", "#0000f1", "#000080"];

// painted from the oldest band down: each area runs from 0 to the cumulative share
const layers = [
  [shareAll, 10], [shareUnder4y, 9], [shareUnder2y, 8], [shareUnder1y, 7], [shareUnder6m, 6],
  [shareUnder5m, 5], [shareUnder4m, 4], [shareUnder3m, 3], [shareUnder2m, 2], [shareUnder1m, 1], [shareUnder15d, 0]
];

const yearToDate = (y) => {
  const yr = Math.floor(y);
  const a = Date.UTC(yr, 0, 1), b = Date.UTC(yr + 1, 0, 1);
  return new Date(a + (y - yr) * (b - a));
};

const FS = 41.67;

const chart = Plot.plot({
  width: 3000,
  height: 1680,
  marginLeft: 376,
  marginRight: 297,
  marginTop: 255,
  marginBottom: 336,
  style: { fontFamily: "DejaVu Sans", fontSize: FS + "px", background: "transparent", color: "#000" },
  x: { type: "utc", domain: [yearToDate(2008.2212), yearToDate(2025.5404)], axis: null },
  y: { domain: [0, 1], axis: null },
  marks: [
    ...layers.map(([series, i]) =>
      Plot.areaY(series, { x: (d) => yearToDate(d[0]), y1: 0, y2: (d) => d[1], fill: bandColors[i], curve: "linear" })
    ),
    Plot.lineY(shareAll, { x: (d) => yearToDate(d[0]), y: (d) => d[1], stroke: bandColors[10], strokeWidth: 4.2 }),
    Plot.axisY({ ticks: yTickValues, tickFormat: (d) => d.toFixed(1), tickSize: 15, tickPadding: 15, strokeWidth: 3.33, fontSize: FS, label: null }),
    Plot.axisX({ ticks: xTickYears.map(yearToDate), tickFormat: () => "", tickSize: 15, strokeWidth: 3.33, label: null }),
    Plot.text(xTickYears, { x: (d) => yearToDate(d), text: (d) => String(d), frameAnchor: "bottom", dy: 60, dx: -6, rotate: -30, textAnchor: "end", lineAnchor: "bottom", fontSize: FS }),
    Plot.text(["HODL Waves proportional"], { frameAnchor: "top", dy: -78, lineAnchor: "bottom", textAnchor: "middle", fontSize: 50 }),
    Plot.text(["Dates"], { frameAnchor: "bottom", dy: 169, lineAnchor: "bottom", textAnchor: "middle", fontSize: FS }),
    Plot.text(["Percentage of the total supply"], { frameAnchor: "left", rotate: -90, dx: -123, dy: -25.5, lineAnchor: "bottom", textAnchor: "middle", fontSize: FS })
  ]
});

const root = document.getElementById("chart");
root.appendChild(chart);

// legend (HTML, to the right of the plot)
const legend = document.createElement("div");
legend.id = "legend";
ageBands.forEach((name, i) => {
  const cy = 39 + 62.9 * i - 4; // centre relative to padding box
  const sw = document.createElement("div");
  sw.className = "sw";
  sw.style.top = (cy - 17) + "px";
  sw.style.background = bandColors[i];
  const lb = document.createElement("div");
  lb.className = "lb";
  lb.style.top = (cy - 24) + "px";
  lb.textContent = name;
  legend.appendChild(sw);
  legend.appendChild(lb);
});
root.appendChild(legend);
</script>
</body>
</html>
